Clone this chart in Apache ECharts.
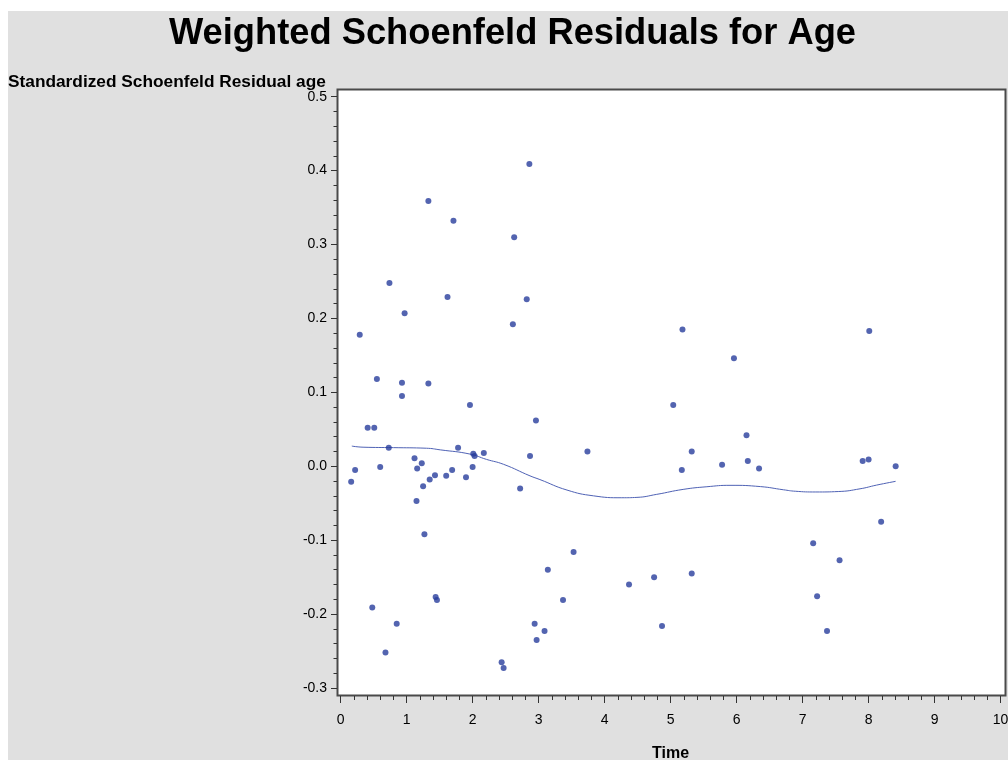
<!DOCTYPE html>
<html>
<head>
<meta charset="utf-8">
<script src="https://cdn.jsdelivr.net/npm/echarts@6/dist/echarts.min.js"></script>
<style>html,body{margin:0;padding:0;background:#fff}#c{width:1008px;height:760px}</style>
</head>
<body>
<div id="c"></div>
<script>
// Residual points (Time, Standardized Schoenfeld Residual age)
var pointTime = [2.86,1.33,1.71,2.63,0.74,1.62,2.82,0.97,2.61,0.29,0.55,0.93,1.33,
  0.93,1.96,0.41,0.51,2.96,0.73,1.78,2.01,2.03,2.17,2.87,1.12,1.23,0.22,0.60,1.16,1.69,2.00,
  1.43,1.60,1.35,1.90,0.16,1.25,2.72,1.15,1.27,3.14,0.48,1.44,1.46,0.85,2.94,3.09,2.97,0.68,
  2.44,2.47,5.18,5.96,5.04,3.74,6.15,5.32,5.17,5.78,6.17,6.34,3.53,3.37,4.37,4.75,5.32,4.87,
  8.01,7.91,8.00,8.41,8.19,7.16,7.56,7.22,7.37];
var pointResid = [0.409,0.359,0.332,0.310,0.248,0.229,0.226,0.207,0.192,0.178,0.118,0.113,0.112,
  0.095,0.083,0.052,0.052,0.062,0.025,0.025,0.017,0.014,0.018,0.014,0.011,0.004,-0.005,-0.001,-0.003,-0.005,-0.001,
  -0.012,-0.013,-0.018,-0.015,-0.021,-0.027,-0.030,-0.047,-0.092,-0.140,-0.191,-0.177,-0.181,-0.213,-0.213,-0.223,-0.235,-0.252,
  -0.265,-0.273,0.185,0.146,0.083,0.020,0.042,0.020,-0.005,0.002,0.007,-0.003,-0.116,-0.181,-0.160,-0.150,-0.145,-0.216,
  0.183,0.007,0.009,0.000,-0.075,-0.104,-0.127,-0.176,-0.223];
// Smoothed curve
var curveTime  = [0.17,0.34,0.80,1.30,1.51,1.96,2.21,2.47,2.87,3.02,3.43,3.83,4.26,4.49,4.79,5.19,5.55,5.90,6.36,6.71,6.89,7.20,7.54,7.87,8.12,8.41];
var curveResid = [0.0273,0.0258,0.0252,0.0244,0.0222,0.0165,0.0093,0.0026,-0.0130,-0.0180,-0.0322,-0.0400,-0.0426,-0.0421,-0.0380,-0.0313,-0.0277,-0.0258,-0.0275,-0.0318,-0.0338,-0.0348,-0.0342,-0.0305,-0.0255,-0.0204];

var scatterData = pointTime.map(function(t,i){return [t,pointResid[i]];});
var curveData = curveTime.map(function(t,i){return [t,curveResid[i]];});

var FONT = 'Liberation Sans, Arial, sans-serif';
var chart = echarts.init(document.getElementById('c'), null, {renderer:'canvas'});
var GL = 340.6, GT = 96.7, GW = 660, GH = 591.3;
chart.setOption({
  animation: false,
  backgroundColor: '#e0e0e0',
  textStyle: {fontFamily: FONT},
  graphic: [
    {type:'rect', shape:{x:0,y:0,width:1008,height:11}, style:{fill:'#ffffff'}, silent:true, z:0},
    {type:'rect', shape:{x:0,y:0,width:8,height:760}, style:{fill:'#ffffff'}, silent:true, z:0},
    {type:'rect', shape:{x:337.5,y:89.5,width:668,height:606}, style:{fill:'#ffffff', stroke:'#4a4a4a', lineWidth:2}, silent:true, z:0},
    {type:'text', x: 512.5, y: 34, style:{text:'Weighted Schoenfeld Residuals for Age', fontSize:36.3, fontWeight:'bold', fill:'#000', fontFamily:FONT, align:'center', verticalAlign:'middle'}, z:5},
    {type:'text', left: 8, top: 74, style:{text:'Standardized Schoenfeld Residual age', fontSize:17.3, fontWeight:'bold', fill:'#000', fontFamily:FONT}, z:5}
  ],
  grid: {left: GL, top: GT, width: GW, height: GH, containLabel: false, outerBoundsMode: 'none'},
  xAxis: {
    type: 'value', min: 0, max: 10, interval: 1, offset: 8,
    name: 'Time', nameLocation: 'middle', nameGap: 50,
    nameTextStyle: {fontSize: 16, fontWeight: 'bold', color: '#000'},
    axisLine: {show: false, onZero: false},
    axisTick: {show: true, length: 7, lineStyle: {color: '#333', width: 1}},
    minorTick: {show: true, splitNumber: 5, length: 4, lineStyle: {color: '#333', width: 1}},
    axisLabel: {fontSize: 14, color: '#000', margin: 17},
    splitLine: {show: false}, minorSplitLine: {show: false}, z: 5
  },
  yAxis: {
    type: 'value', min: -0.3, max: 0.5, interval: 0.1, offset: 3.6,
    axisLine: {show: false, onZero: false},
    axisTick: {show: true, length: 6, lineStyle: {color: '#333', width: 1}},
    minorTick: {show: true, splitNumber: 5, length: 3.5, lineStyle: {color: '#333', width: 1}},
    axisLabel: {fontSize: 14, color: '#000', margin: 10,
      formatter: function(v){ var r = Math.round(v*10)/10; return r.toFixed(1); }},
    splitLine: {show: false}, minorSplitLine: {show: false}, z: 5
  },
  series: [
    {type: 'line', data: curveData, smooth: 0.5, showSymbol: false, clip: false,
     lineStyle: {color: '#4f62b5', width: 1}, z: 3, silent: true},
    {type: 'scatter', data: scatterData, symbol: 'circle', symbolSize: 6, clip: false,
     itemStyle: {color: '#283d9c'}, z: 4, silent: true}
  ]
});
</script>
</body>
</html>
